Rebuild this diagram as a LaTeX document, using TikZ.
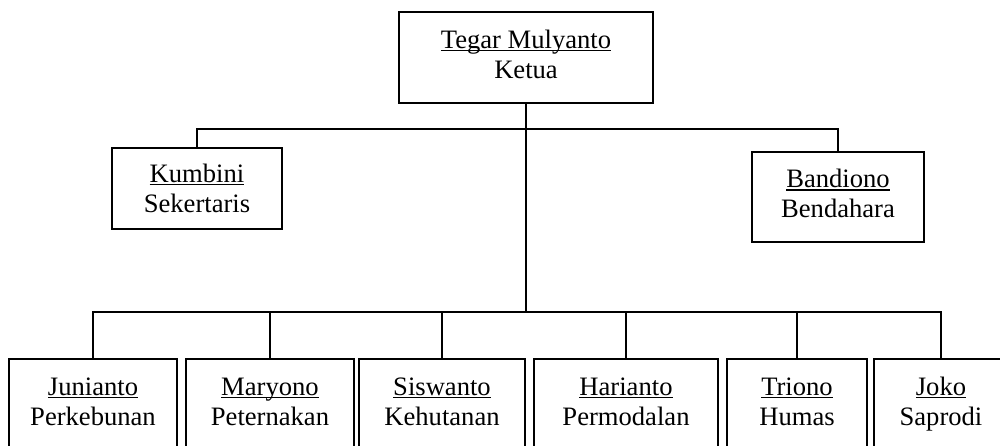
\documentclass[tikz,border=0pt]{standalone}
\usepackage{fontspec}
\setmainfont{Liberation Serif}
\newcommand\myul[1]{\setbox0\hbox{#1}\rlap{\rule[-0.1em]{\wd0}{0.045em}}\box0}
\newcommand\mylin[1]{\strut#1}
\begin{document}
\begin{tikzpicture}[x=1pt,y=-1pt,
  box/.style={draw,line width=1.8pt,align=center,inner sep=0pt,
    font=\fontsize{26.6}{30}\selectfont},
  conn/.style={line width=1.8pt}]
\useasboundingbox (0,0) rectangle (1000,446);
\clip (0,0) rectangle (1000,446);
\node[box,minimum width=254,minimum height=91] (ketua) at (526,57.5)
  {\mylin{\myul{Tegar Mulyanto}}\\\mylin{Ketua}};
\node[box,minimum width=170,minimum height=81] (sek) at (197,188.5)
  {\rule{0pt}{27pt}\myul{Kumbini}\\\mylin{Sekertaris}};
\node[box,minimum width=172,minimum height=90] (ben) at (838,197)
  {\mylin{\myul{Bandiono}}\\\mylin{Bendahara}};
\node[box,minimum width=168,minimum height=91] (c1) at (93,404.5)
  {\mylin{\myul{Junianto}}\\\mylin{Perkebunan}};
\node[box,minimum width=168,minimum height=91] (c2) at (270,404.5)
  {\mylin{\myul{Maryono}}\\\mylin{Peternakan}};
\node[box,minimum width=166,minimum height=91] (c3) at (442,404.5)
  {\mylin{\myul{Siswanto}}\\\mylin{Kehutanan}};
\node[box,minimum width=184,minimum height=91] (c4) at (626,404.5)
  {\mylin{\myul{Harianto}}\\\mylin{Permodalan}};
\node[box,minimum width=140,minimum height=91] (c5) at (797,404.5)
  {\mylin{\myul{Triono}}\\\mylin{Humas}};
\node[box,minimum width=134,minimum height=91] (c6) at (941,404.5)
  {\mylin{\myul{Joko}}\\\mylin{Saprodi}};
\coordinate (t1) at (526,129);
\coordinate (b1) at (526,312);
\draw[conn] (ketua.south) -- (b1);
\draw[conn] (sek.north) |- (t1) -| (ben.north);
\foreach \c in {c1,c2,c3,c4,c5,c6} \draw[conn] (b1) -| (\c.north);
\end{tikzpicture}
\end{document}
